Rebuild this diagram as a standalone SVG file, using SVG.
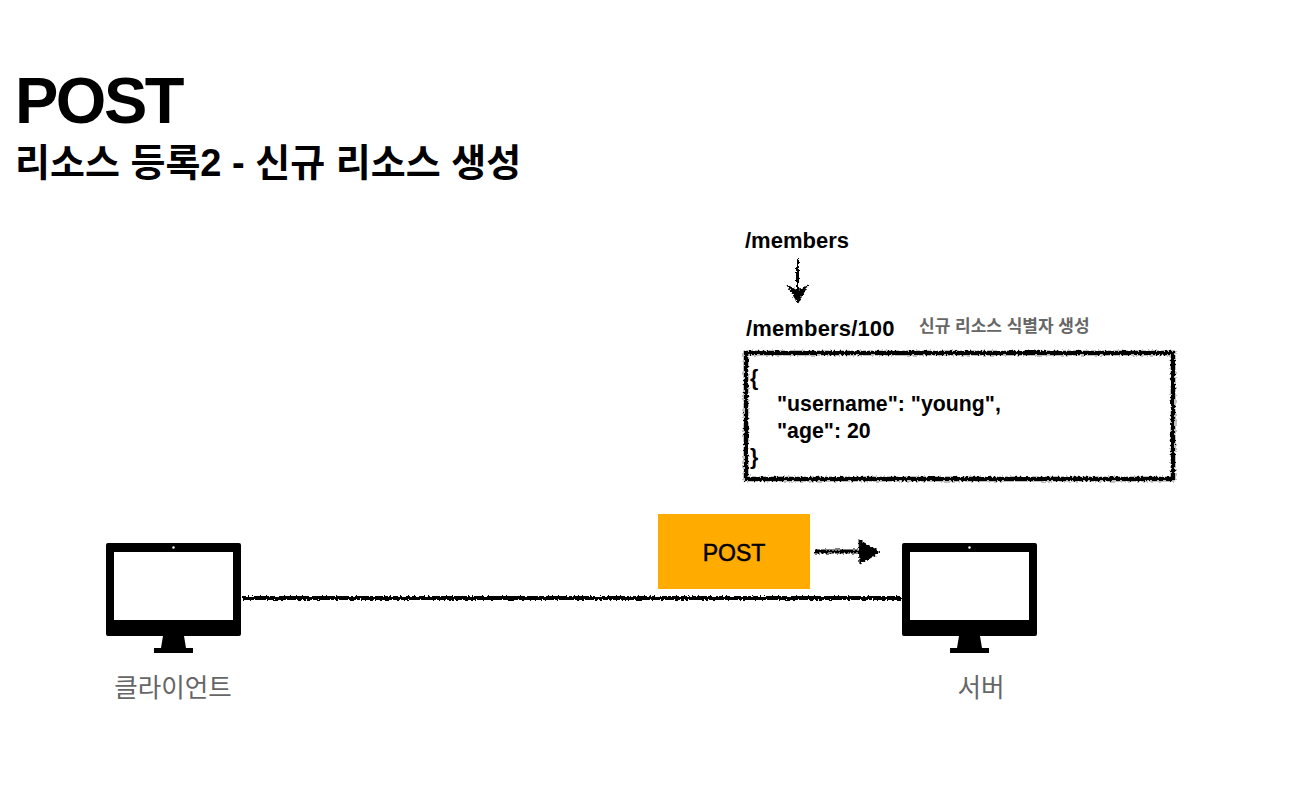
<svg xmlns="http://www.w3.org/2000/svg" width="1314" height="806" viewBox="0 0 1314 806">
<style>
text{font-family:"Liberation Sans","Noto Sans CJK KR",sans-serif;fill:#000}
.b{font-weight:700}
.m{font-size:22px;font-weight:700}
.j{font-size:21.300px;font-weight:700}
.g{fill:#666;font-size:25.600px}
.rough{fill:none;stroke:#000;filter:url(#rough)}
</style>
<defs>
<filter id="rough" x="-5%" y="-5%" width="110%" height="110%" filterUnits="userSpaceOnUse" primitiveUnits="userSpaceOnUse">
<feTurbulence type="fractalNoise" baseFrequency="0.5" numOctaves="3" seed="4" result="n"/>
<feDisplacementMap in="SourceGraphic" in2="n" scale="4.500" xChannelSelector="R" yChannelSelector="G"/>
</filter>
<g id="monitor">
<path fill-rule="evenodd" d="M2 0H133a2 2 0 0 1 2 2V91a2 2 0 0 1-2 2H2a2 2 0 0 1-2-2V2a2 2 0 0 1 2-2ZM8 9V77H127V9Z"/>
<circle cx="67.500" cy="4.500" r="1.200" fill="#fff"/>
<path d="M57 93H78L80 105H87V110H48V105H55Z"/>
</g>
</defs>
<rect width="1314" height="806" fill="#fff"/>
<g id="title">
<text class="b" x="15" y="123" font-size="65" letter-spacing="-2.500">POST</text>
<text class="b" x="15" y="176" font-size="38">리소스 등록2 - 신규 리소스 생성</text>
</g>
<g id="connectors">
<path class="rough" stroke-width="4" d="M242 598H901"/>
<path class="rough" stroke-width="4" d="M815 551.500H862"/>
<path d="M859 540L880 552L860 564Z" class="rough" style="fill:#000" stroke-width="1"/>
<path class="rough" stroke-width="3" d="M797.500 259V298"/>
<path d="M787 285L797.500 291L808 285L798 303Z" class="rough" style="fill:#000" stroke-width="1"/>
</g>
<g id="client">
<use href="#monitor" x="106" y="543"/>
<text class="g" x="173" y="697" text-anchor="middle">클라이언트</text>
</g>
<g id="server">
<use href="#monitor" x="902" y="543"/>
<text class="g" x="981" y="697" text-anchor="middle">서버</text>
</g>
<g id="post-label">
<rect x="658" y="514" width="152" height="75" fill="#ffab00"/>
<text x="734" y="561" font-size="23" text-anchor="middle" style="stroke:#000;stroke-width:.5px">POST</text>
</g>
<g id="path-members">
<text class="m" x="745" y="248">/members</text>
</g>
<g id="path-members-100">
<text class="m" x="746" y="336" letter-spacing=".15">/members/100</text>
<text class="b" x="919" y="332" font-size="17" style="fill:#666">신규 리소스 식별자 생성</text>
</g>
<g id="body">
<rect class="rough" x="746" y="353" width="427" height="126" stroke-width="4.500"/>
<g class="j">
<text x="750" y="385">{</text>
<text x="777" y="411">"username": "young",</text>
<text x="777" y="438">"age": 20</text>
<text x="750" y="464">}</text>
</g>
</g>
</svg>
